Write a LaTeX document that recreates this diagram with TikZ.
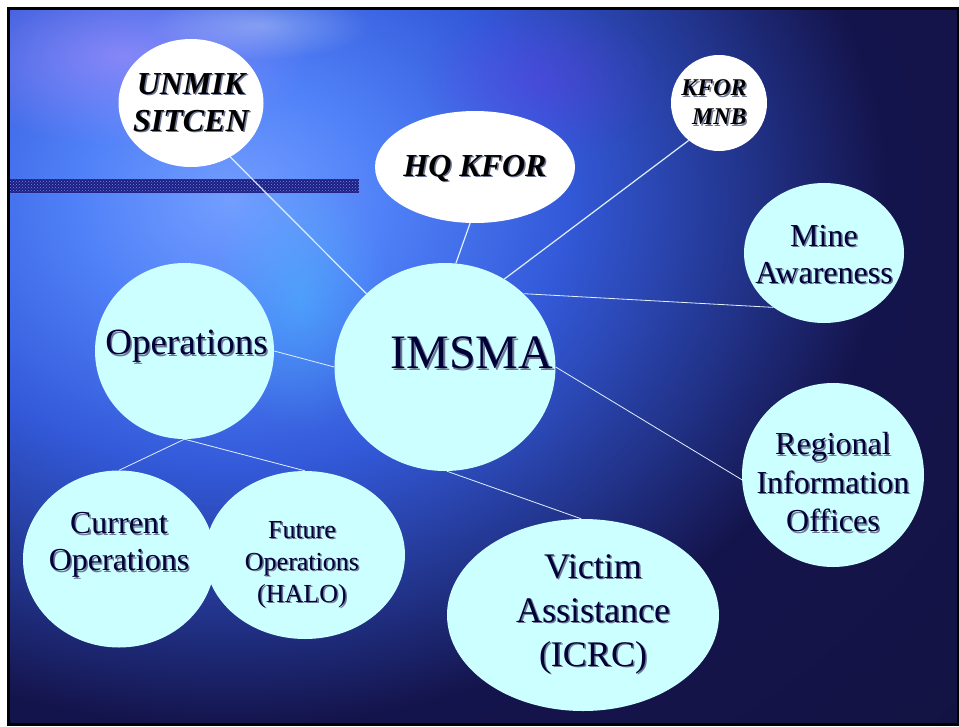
\documentclass[tikz,border=0pt]{standalone}
\usepackage{fontspec}
\setmainfont{Liberation Serif}
\usetikzlibrary{shapes.geometric,patterns,fadings}

\definecolor{bubblecyan}{RGB}{204,255,255}
\definecolor{labelnavy}{RGB}{0,0,56}
\definecolor{textshade}{RGB}{110,120,150}
\definecolor{linkwhite}{RGB}{225,240,255}
\definecolor{bandnavy}{RGB}{30,30,130}
\definecolor{bandspeck}{RGB}{110,140,235}
\definecolor{spotlilac}{RGB}{185,150,255}
\definecolor{spotcyan}{RGB}{70,210,255}
\definecolor{spotviolet}{RGB}{110,50,220}

\pgfdeclareradialshading{slideglow}{\pgfpointorigin}{%
  rgb(0bp)=(0.45,0.62,1);
  rgb(5bp)=(0.31,0.50,0.97);
  rgb(10.5bp)=(0.20,0.35,0.85);
  rgb(15.5bp)=(0.14,0.22,0.58);
  rgb(20.5bp)=(0.08,0.08,0.30);
  rgb(50bp)=(0.06,0.06,0.19)}

\tikzfading[name=softspot, inner color=transparent!0, outer color=transparent!100]

\newcommand{\txtshadow}[1]{\leavevmode\rlap{\kern1.5pt\raisebox{-1.5pt}{\textcolor{textshade}{#1}}}#1}

\begin{document}
\begin{tikzpicture}[x=1pt, y=-1pt,
    bubble/.style={ellipse, fill=bubblecyan, inner sep=0pt},
    whitebubble/.style={ellipse, fill=white, inner sep=0pt},
    topic/.style={text=labelnavy, align=center, inner sep=0pt},
    unit/.style={text=black, align=center, inner sep=0pt},
    link/.style={draw=linkwhite, line width=0.8pt},
    thicklink/.style={link, line width=1.2pt}]
    % Slide background
 \useasboundingbox (0,0) rectangle (959,726);
 \fill[white] (0,0) rectangle (959,726);
 \fill[black] (7,7) rectangle (959,726);
 \begin{scope}
  \clip (10,10) rectangle (957,722);
  \shade[shading=slideglow] (-570,-440) rectangle (1030,840);
  \fill[spotlilac, opacity=.55, path fading=softspot] (120,55) ellipse (190 and 90);
  \fill[white, opacity=.3, path fading=softspot] (260,25) ellipse (110 and 35);
  \fill[spotviolet, opacity=.35, path fading=softspot] (540,80) ellipse (120 and 80);
  \fill[spotcyan, opacity=.35, path fading=softspot] (300,300) ellipse (90 and 130);
 \end{scope}
 \fill[bandnavy] (10,179) rectangle (359,193);
 \fill[pattern=crosshatch dots, pattern color=bandspeck] (10,179) rectangle (359,193);

    % Bubbles
 \node[whitebubble, minimum width=145, minimum height=128,
    label={[unit, font=\bfseries\itshape\fontsize{32}{37}\selectfont]center:\txtshadow{UNMIK}\\\txtshadow{SITCEN}}] (unmik) at (191,103) {};
 \node[whitebubble, minimum width=200, minimum height=112,
    label={[unit, font=\bfseries\itshape\fontsize{32}{37}\selectfont, yshift=-2]center:\txtshadow{HQ KFOR}}] (hq) at (475,167) {};
 \node[whitebubble, minimum width=96, minimum height=96,
    label={[unit, align=right, font=\bfseries\itshape\fontsize{24}{29}\selectfont, xshift=-5]center:\txtshadow{KFOR}\\\txtshadow{MNB}}] (mnb) at (719,103) {};
 \node[bubble, minimum width=160, minimum height=140,
    label={[topic, font=\fontsize{32}{37}\selectfont, yshift=-2]center:\txtshadow{Mine}\\\txtshadow{Awareness}}] (mine) at (824,253) {};
 \node[bubble, minimum width=221, minimum height=208,
    label={[topic, font=\fontsize{48}{56}\selectfont, xshift=27, yshift=13]center:\txtshadow{IMSMA}}] (imsma) at (445,367) {};
 \node[bubble, minimum width=179, minimum height=176,
    label={[topic, font=\fontsize{37}{44}\selectfont, xshift=2, yshift=4]center:\txtshadow{Operations}}] (ops) at (184.5,351) {};
 \node[bubble, minimum width=200, minimum height=168,
    label={[topic, font=\fontsize{26}{32}\selectfont, xshift=-3, yshift=-10]center:\txtshadow{Future}\\\txtshadow{Operations}\\\txtshadow{(HALO)}}] (future) at (305,555) {};
 \node[bubble, minimum width=192, minimum height=177,
    label={[topic, font=\fontsize{32}{37}\selectfont, yshift=13]center:\txtshadow{Current}\\\txtshadow{Operations}}] (current) at (119,559) {};
 \node[bubble, minimum width=272, minimum height=192,
    label={[topic, font=\fontsize{36}{44}\selectfont, xshift=10]center:\txtshadow{Victim}\\\txtshadow{Assistance}\\\txtshadow{(ICRC)}}] (victim) at (583,615) {};
 \node[bubble, minimum width=182, minimum height=184,
    label={[topic, font=\fontsize{32}{38.5}\selectfont, yshift=-8]center:\txtshadow{Regional}\\\txtshadow{Information}\\\txtshadow{Offices}}] (regional) at (833,475) {};

    % Links
 \draw[thicklink] (unmik.-54) -- (imsma.137);
 \draw[thicklink] (hq.-95) -- (imsma.84);
 \draw[thicklink] (mnb.231) -- (imsma.56);
 \draw[link] (mine.227) -- (imsma.43);
 \draw[link] (imsma.0) -- (regional.183);
 \draw[link] (ops.0) -- (imsma.180);
 \draw[link] (ops.south) -- (current.north);
 \draw[link] (ops.south) -- (future.north);
 \draw[link] (imsma.-89) -- (victim.91);
\end{tikzpicture}
\end{document}
